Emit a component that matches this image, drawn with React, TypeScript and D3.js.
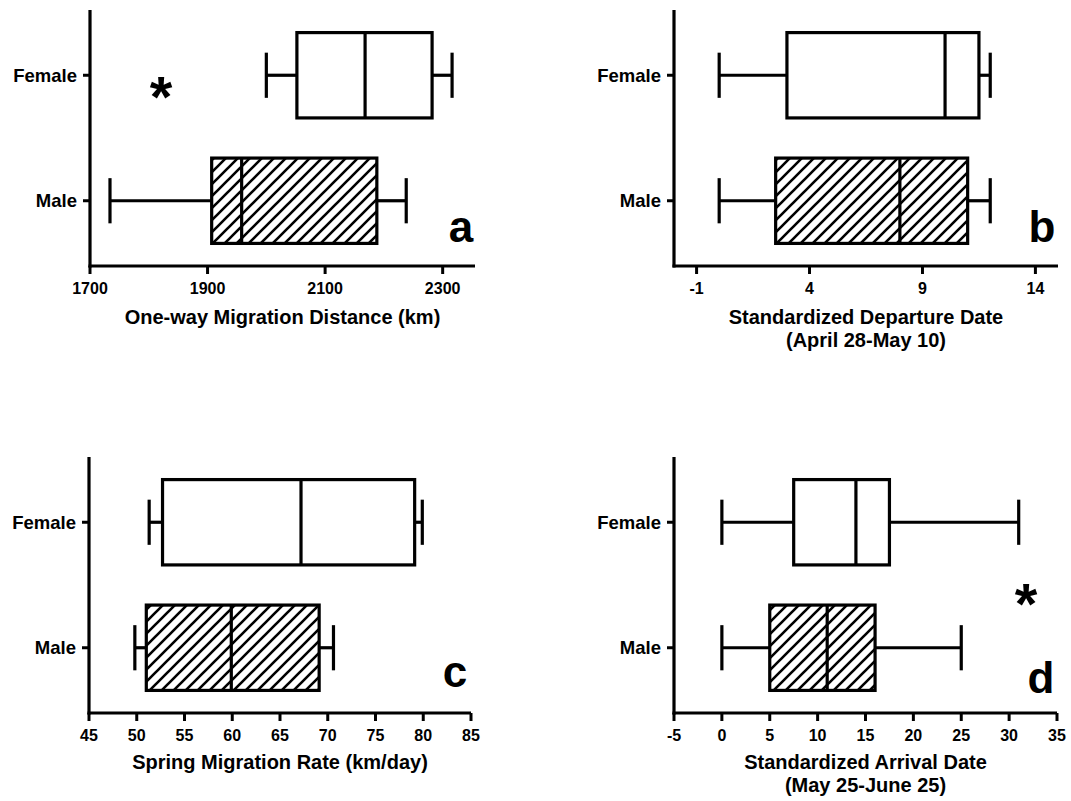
import React from "react";
import * as d3 from "d3";

const categories = ["Female", "Male"];

// [min, q1, median, q3, max]
const distanceFemale = [2000, 2052, 2168, 2282, 2316];
const distanceMale = [1734, 1907, 1958, 2188, 2238];
const departureFemale = [0, 3, 10, 11.5, 12];
const departureMale = [0, 2.5, 8, 11, 12];
const rateFemale = [51.3, 52.7, 67.2, 79.1, 79.9];
const rateMale = [49.8, 51.0, 59.9, 69.1, 70.6];
const arrivalFemale = [0, 7.5, 14, 17.5, 31];
const arrivalMale = [0, 5, 11, 16, 25];

const distanceTicks = [1700, 1900, 2100, 2300];
const departureTicks = [-1, 4, 9, 14];
const rateTicks = [45, 50, 55, 60, 65, 70, 75, 80, 85];
const arrivalTicks = [-5, 0, 5, 10, 15, 20, 25, 30, 35];

const FONT = "'Liberation Sans', Arial, Helvetica, sans-serif";

type PanelProps = {
  domain: [number, number];
  xRange: [number, number];
  top: number;
  bottom: number;
  ticks: number[];
  female: number[];
  male: number[];
  title: string[];
  titleOffset: number;
  letter: string;
  letterPos: [number, number];
  star?: [number, number];
};

function Panel(p: PanelProps) {
  const x = d3.scaleLinear().domain(p.domain).range(p.xRange);
  const y = d3.scalePoint<string>().domain(categories).range([p.top, p.bottom]).padding(0.52);
  const step = y.step();
  const boxH = step * 0.34;
  const capH = step * 0.18;
  const axisX = p.xRange[0];
  const axisY = p.bottom;
  const cx = (p.xRange[0] + p.xRange[1]) / 2;
  const series = [
    { cat: "Female", v: p.female, fill: "#fff" },
    { cat: "Male", v: p.male, fill: "url(#hatch)" },
  ];
  return (
    <g>
      <line x1={axisX} x2={axisX} y1={p.top} y2={axisY + 1.5} stroke="#000" strokeWidth={3.2} />
      <line x1={axisX - 1.5} x2={p.xRange[1]} y1={axisY} y2={axisY} stroke="#000" strokeWidth={3.2} />
      {p.ticks.map((t) => (
        <g key={t}>
          <line x1={x(t)} x2={x(t)} y1={axisY} y2={axisY + 8} stroke="#000" strokeWidth={3} />
          <text x={x(t)} y={axisY + 28} textAnchor="middle" fontSize={16} fontWeight="bold" fontFamily={FONT}>
            {t}
          </text>
        </g>
      ))}
      {categories.map((c) => (
        <g key={c}>
          <line x1={axisX - 7} x2={axisX} y1={y(c)} y2={y(c)} stroke="#000" strokeWidth={3} />
          <text x={axisX - 13} y={(y(c) as number) + 6.5} textAnchor="end" fontSize={18.5} fontWeight="bold" fontFamily={FONT}>
            {c}
          </text>
        </g>
      ))}
      {series.map((s) => {
        const cy = y(s.cat) as number;
        const [mn, q1, md, q3, mx] = s.v;
        return (
          <g key={s.cat} stroke="#000" strokeWidth={3.2}>
            <line x1={x(mn)} x2={x(q1)} y1={cy} y2={cy} />
            <line x1={x(q3)} x2={x(mx)} y1={cy} y2={cy} />
            <line x1={x(mn)} x2={x(mn)} y1={cy - capH} y2={cy + capH} />
            <line x1={x(mx)} x2={x(mx)} y1={cy - capH} y2={cy + capH} />
            <rect x={x(q1)} y={cy - boxH} width={x(q3) - x(q1)} height={2 * boxH} fill={s.fill} />
            <line x1={x(md)} x2={x(md)} y1={cy - boxH} y2={cy + boxH} />
          </g>
        );
      })}
      {p.title.map((t, i) => (
        <text key={i} x={cx} y={axisY + p.titleOffset + i * 23} textAnchor="middle" fontSize={20} fontWeight="bold" fontFamily={FONT}>
          {t}
        </text>
      ))}
      <text x={p.letterPos[0]} y={p.letterPos[1]} textAnchor="middle" fontSize={44} fontWeight="bold" fontFamily={FONT}>
        {p.letter}
      </text>
      {p.star && (
        <text x={p.star[0]} y={p.star[1]} textAnchor="middle" fontSize={58} fontWeight="bold" fontFamily={FONT}>
          *
        </text>
      )}
    </g>
  );
}

export default function App() {
  return (
    <svg width={1071} height={801} style={{ position: "absolute", left: 0, top: 0, background: "#fff" }}>
      <defs>
        <pattern id="hatch" patternUnits="userSpaceOnUse" width={12} height={12}>
          <rect width={12} height={12} fill="#fff" />
          <path d="M-2,2 L2,-2 M0,12 L12,0 M10,14 L14,10" stroke="#000" strokeWidth={2.6} />
        </pattern>
      </defs>
      <rect width={1071} height={801} fill="#fff" />
      <Panel
        domain={[1700, 2355]}
        xRange={[90, 475]}
        top={10}
        bottom={266}
        ticks={distanceTicks}
        female={distanceFemale}
        male={distanceMale}
        title={["One-way Migration Distance (km)"]}
        titleOffset={58}
        letter="a"
        letterPos={[461, 242]}
        star={[161, 117]}
      />
      <Panel
        domain={[-2, 15]}
        xRange={[674, 1058]}
        top={10}
        bottom={266}
        ticks={departureTicks}
        female={departureFemale}
        male={departureMale}
        title={["Standardized Departure Date", "(April 28-May 10)"]}
        titleOffset={58}
        letter="b"
        letterPos={[1042, 242]}
      />
      <Panel
        domain={[45, 85]}
        xRange={[89, 471]}
        top={457}
        bottom={713}
        ticks={rateTicks}
        female={rateFemale}
        male={rateMale}
        title={["Spring Migration Rate (km/day)"]}
        titleOffset={56}
        letter="c"
        letterPos={[455, 687]}
      />
      <Panel
        domain={[-5, 35]}
        xRange={[674, 1057]}
        top={457}
        bottom={713}
        ticks={arrivalTicks}
        female={arrivalFemale}
        male={arrivalMale}
        title={["Standardized Arrival Date", "(May 25-June 25)"]}
        titleOffset={56}
        letter="d"
        letterPos={[1041, 693]}
        star={[1026, 624]}
      />
    </svg>
  );
}
